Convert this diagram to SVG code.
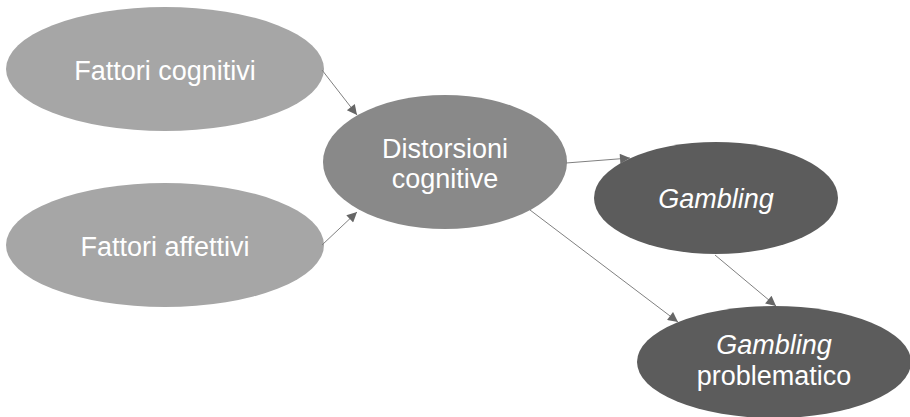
<svg xmlns="http://www.w3.org/2000/svg" width="910" height="417" viewBox="0 0 910 417">
<style>
.t{font-family:"Liberation Sans",Arial,sans-serif;font-size:27px;fill:#ffffff;text-anchor:middle}
.i{font-style:italic}
.c{stroke:#808080;stroke-width:1;fill:none;marker-end:url(#ah)}
</style>
<defs>
<marker id="ah" viewBox="0 0 10 10" refX="10" refY="5" markerWidth="12" markerHeight="10" markerUnits="userSpaceOnUse" orient="auto">
<path d="M0,0 L10,5 L0,10 z" fill="#666666"/>
</marker>
</defs>
<rect width="910" height="417" fill="#ffffff"/>
<g id="n1"><ellipse cx="165" cy="69" rx="159" ry="62" fill="#a6a6a6"/><text class="t" x="165" y="80">Fattori cognitivi</text></g>
<g id="n2"><ellipse cx="165" cy="245" rx="159" ry="62" fill="#a6a6a6"/><text class="t" x="165" y="256">Fattori affettivi</text></g>
<g id="n3"><ellipse cx="445" cy="162" rx="122" ry="67" fill="#898989"/><text class="t" x="445" y="158">Distorsioni</text><text class="t" x="445" y="188">cognitive</text></g>
<g id="n4"><ellipse cx="716" cy="198" rx="122" ry="56" fill="#5c5c5c"/><text class="t i" x="716" y="208">Gambling</text></g>
<g id="n5"><ellipse cx="774" cy="362" rx="137" ry="56" fill="#5c5c5c"/><text class="t i" x="774" y="354">Gambling</text><text class="t" x="774" y="385">problematico</text></g>
<g id="connectors">
<line class="c" x1="322" y1="70" x2="357" y2="115"/>
<line class="c" x1="322" y1="245" x2="357" y2="212"/>
<line class="c" x1="566" y1="163" x2="630" y2="158"/>
<line class="c" x1="530" y1="210" x2="678" y2="322"/>
<line class="c" x1="715" y1="255" x2="776" y2="306"/>
</g>
</svg>
